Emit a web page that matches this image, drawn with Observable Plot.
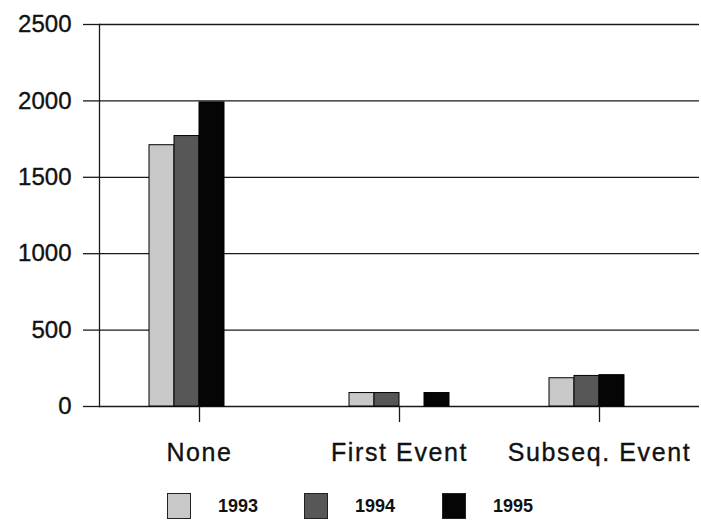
<!DOCTYPE html>
<html>
<head>
<meta charset="utf-8">
<script src="https://cdn.jsdelivr.net/npm/d3@7"></script>
<script src="https://cdn.jsdelivr.net/npm/@observablehq/plot@0.6"></script>
<style>
  html, body { margin: 0; padding: 0; background: #fff; }
  #wrap { position: relative; width: 701px; height: 520px; font-family: "Liberation Sans", Arial, sans-serif; }
  #legend { position: absolute; left: 0; top: 480px; width: 701px; height: 40px; }
  .sw { position: absolute; top: 13px; width: 24px; height: 26px; border: 1px solid #222; box-sizing: border-box; }
  .lt { position: absolute; top: 17px; font-size: 18px; font-weight: bold; color: #111; line-height: 18px; }
</style>
</head>
<body>
<div id="wrap"><div id="chart"></div><div id="legend"></div></div>
<script>
// ---- data ----
const categories = ["None", "First Event", "Subseq. Event"];
const years = ["1993", "1994", "1995"];
const values1993 = [1710, 88, 185];
const values1994 = [1770, 88, 200];
const values1995 = [1990, 88, 205];
const yTicks = [0, 500, 1000, 1500, 2000, 2500];
const yearColors = ["#c8c8c8", "#575757", "#050505"];

// In the printed chart the "First Event" 1995 bar sits one slot further right.
const slots = ["1993", "1994", "1995", "1995 (shifted)"];
const series = [values1993, values1994, values1995];
const rows = categories.flatMap((c, i) => years.map((yr, j) => ({
  category: c,
  year: yr,
  value: series[j][i],
  slot: (c === "First Event" && yr === "1995") ? "1995 (shifted)" : yr
})));

const chart = Plot.plot({
  width: 701,
  height: 480,
  marginLeft: 98,
  marginRight: 2,
  marginTop: 24,
  marginBottom: 74,
  style: { fontFamily: "Liberation Sans, Arial, sans-serif", color: "#111", background: "#fff" },
  fx: { domain: categories, padding: 0, label: null },
  x: { domain: slots, paddingInner: 0, paddingOuter: 1.94, axis: null },
  y: { domain: [0, 2500], axis: null },
  color: { domain: years, range: yearColors },
  marks: [
    Plot.ruleY(yTicks, { stroke: "#1a1a1a", strokeWidth: 1.3 }),
    Plot.barY(rows, { fx: "category", x: "slot", y: "value", fill: "year", stroke: "#000", strokeWidth: 1 }),
    Plot.frame({ anchor: "left", fx: () => categories[0], stroke: "#1a1a1a", strokeWidth: 1.3 }),
    Plot.axisY({ ticks: yTicks, tickSize: 16, tickPadding: 12, fontSize: 24, tickFormat: d => String(d), label: null, stroke: "#1a1a1a", strokeWidth: 1.3 }),
    Plot.axisFx({ anchor: "bottom", tickSize: 16, tickPadding: 21, fontSize: 25, label: null, stroke: "#1a1a1a", strokeWidth: 1.3 })
  ]
});
document.getElementById("chart").appendChild(chart);
d3.select(chart).selectAll("[aria-label='fx-axis tick label'] text").style("letter-spacing", "1.6px");
d3.select(chart).selectAll("[aria-label$='tick label']")
  .style("stroke", "#111").style("stroke-width", "0.35px").style("paint-order", "stroke");

// ---- legend ----
const legend = d3.select("#legend");
const swatchLeft = [167, 304, 442];
const textLeft = [218, 355, 493];
years.forEach((yr, i) => {
  legend.append("div").attr("class", "sw").style("left", swatchLeft[i] + "px").style("background", yearColors[i]);
  legend.append("div").attr("class", "lt").style("left", textLeft[i] + "px").text(yr);
});
</script>
</body>
</html>
